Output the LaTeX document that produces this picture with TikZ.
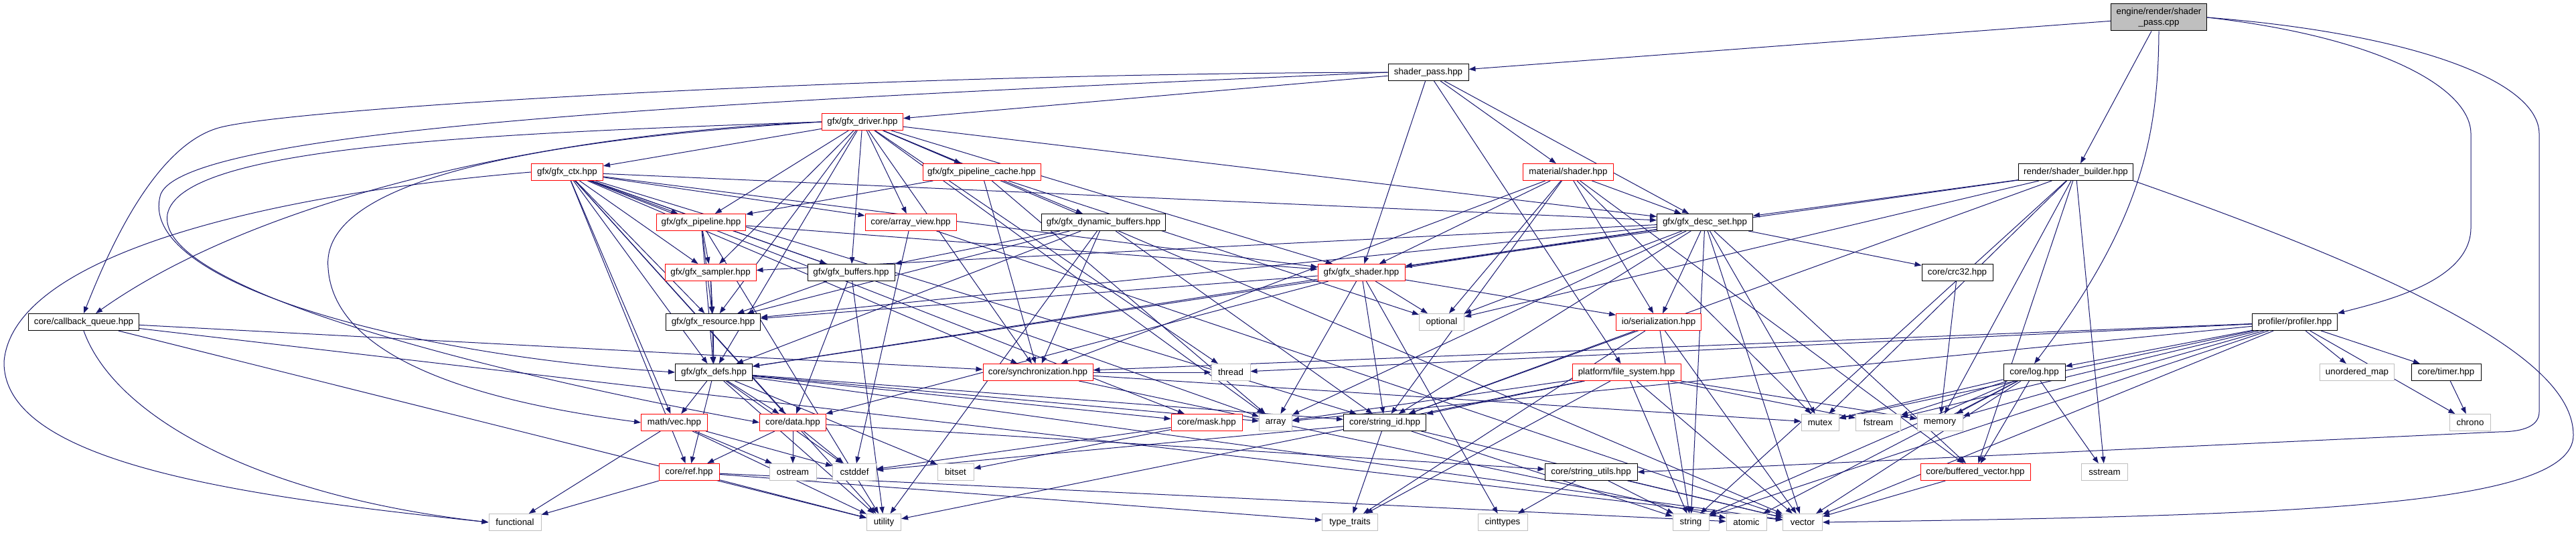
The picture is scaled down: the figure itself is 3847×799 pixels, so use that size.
\documentclass[tikz,border=0pt]{standalone}
\usepackage{fontspec}
\setmainfont{Liberation Sans}
\usetikzlibrary{arrows.meta}
\definecolor{edgec}{HTML}{191970}
\definecolor{sysg}{HTML}{BFBFBF}
\newdimen\pxu \pxu=0.75pt
\pgfdeclarelayer{bg}
\pgfsetlayers{bg,main}
\begin{document}
\begin{tikzpicture}[x=0.75pt,y=-0.75pt,
  nd/.style={rectangle, draw=black, fill=white, line width=0.75pt, inner sep=0pt,
     minimum height=25\pxu, font=\fontsize{10}{12}\selectfont, text=black},
  rn/.style={nd, draw=red},
  gn/.style={nd, draw=sysg},
  e/.style={draw=edgec, line width=0.75pt, -{Triangle[length=7.5pt,width=5.5pt]}},
]
\useasboundingbox (0,0) rectangle (3847,799);
% rank 0
\node[nd, fill=sysg, align=center, minimum width=143\pxu, minimum height=40\pxu] (root) at (3224,26) {engine/render/shader\\\_pass.cpp};
% rank 1
\node[nd, minimum width=120\pxu] (spass) at (2133,108) {shader\_pass.hpp};
% rank 2
\node[rn, minimum width=121\pxu] (driver) at (1288,182) {gfx/gfx\_driver.hpp};
% rank 3
\node[rn, minimum width=107\pxu] (ctx) at (847,257) {gfx/gfx\_ctx.hpp};
\node[rn, minimum width=176\pxu] (pcache) at (1466,257) {gfx/gfx\_pipeline\_cache.hpp};
\node[rn, minimum width=135\pxu] (mat) at (2342,257) {material/shader.hpp};
\node[nd, minimum width=171\pxu] (sbuild) at (3100,257) {render/shader\_builder.hpp};
% rank 4
\node[rn, minimum width=133\pxu] (pipe) at (1047,332) {gfx/gfx\_pipeline.hpp};
\node[rn, minimum width=136\pxu] (aview) at (1360,332) {core/array\_view.hpp};
\node[nd, minimum width=185\pxu] (dynbuf) at (1648,332) {gfx/gfx\_dynamic\_buffers.hpp};
\node[nd, minimum width=143\pxu] (desc) at (2546,332) {gfx/gfx\_desc\_set.hpp};
% rank 5
\node[rn, minimum width=136\pxu] (samp) at (1061,407) {gfx/gfx\_sampler.hpp};
\node[nd, minimum width=130\pxu] (bufs) at (1271,407) {gfx/gfx\_buffers.hpp};
\node[rn, minimum width=130\pxu] (shader) at (2033,407) {gfx/gfx\_shader.hpp};
\node[nd, minimum width=106\pxu] (crc) at (2923,407) {core/crc32.hpp};
% rank 6
\node[nd, minimum width=165\pxu] (cbq) at (125,481) {core/callback\_queue.hpp};
\node[nd, minimum width=141\pxu] (res) at (1065,481) {gfx/gfx\_resource.hpp};
\node[gn, minimum width=67\pxu] (opt) at (2153,481) {optional};
\node[rn, minimum width=127\pxu] (ser) at (2477,481) {io/serialization.hpp};
\node[nd, minimum width=127\pxu] (prof) at (3427,481) {profiler/profiler.hpp};
% rank 7
\node[nd, minimum width=115\pxu] (defs) at (1066,556) {gfx/gfx\_defs.hpp};
\node[rn, minimum width=164\pxu] (sync) at (1550,556) {core/synchronization.hpp};
\node[gn, minimum width=58\pxu] (thread) at (1838,556) {thread};
\node[rn, minimum width=162\pxu] (fsys) at (2429,556) {platform/file\_system.hpp};
\node[nd, minimum width=92\pxu] (log) at (3038,556) {core/log.hpp};
\node[gn, minimum width=111\pxu] (umap) at (3520,556) {unordered\_map};
\node[nd, minimum width=104\pxu] (timer) at (3653,556) {core/timer.hpp};
% rank 8
\node[rn, minimum width=99\pxu] (vec) at (1007,631) {math/vec.hpp};
\node[rn, minimum width=99\pxu] (data) at (1184,631) {core/data.hpp};
\node[rn, minimum width=106\pxu] (mask) at (1802,631) {core/mask.hpp};
\node[gn, minimum width=49\pxu] (array) at (1905,631) {array};
\node[nd, minimum width=123\pxu] (sid) at (2068,631) {core/string\_id.hpp};
\node[gn, minimum width=56\pxu] (mtx) at (2718,631) {mutex};
\node[gn, minimum width=67\pxu] (fstr) at (2805,631) {fstream};
\node[gn, minimum width=68\pxu] (mem) at (2897,631) {memory};
\node[gn, minimum width=61\pxu] (chrono) at (3689,631) {chrono};
% rank 9
\node[rn, minimum width=90\pxu] (ref) at (1029,705) {core/ref.hpp};
\node[gn, minimum width=70\pxu] (ostr) at (1184,705) {ostream};
\node[gn, minimum width=65\pxu] (cdef) at (1276,705) {cstddef};
\node[gn, minimum width=54\pxu] (bits) at (1427,705) {bitset};
\node[nd, minimum width=138\pxu] (sutil) at (2376,705) {core/string\_utils.hpp};
\node[rn, minimum width=164\pxu] (bvec) at (2950,705) {core/buffered\_vector.hpp};
\node[gn, minimum width=69\pxu] (sstr) at (3143,705) {sstream};
% rank 10
\node[gn, minimum width=78\pxu] (func) at (769,780) {functional};
\node[gn, minimum width=51\pxu] (util) at (1320,780) {utility};
\node[gn, minimum width=83\pxu] (tt) at (2016,780) {type\_traits};
\node[gn, minimum width=74\pxu] (cint) at (2244,780) {cinttypes};
\node[gn, minimum width=54\pxu] (str) at (2525,780) {string};
\node[gn, minimum width=60\pxu] (atom) at (2608,780) {atomic};
\node[gn, minimum width=59\pxu] (vect) at (2692,780) {vector};

\begin{pgfonlayer}{bg}
\foreach \a/\b in {root/spass, root/sbuild,
  spass/driver, spass/mat, spass/shader, spass/fsys, spass/desc,
  driver/ctx, driver/pcache, driver/pipe, driver/aview, driver/dynbuf, driver/bufs, driver/samp,
  driver/shader, driver/desc, driver/thread, driver/array, driver/res, driver/defs, driver/sync, driver/vect,
  ctx/pipe, ctx/aview, ctx/samp, ctx/bufs, ctx/shader, ctx/desc, ctx/res, ctx/defs, ctx/vec,
  ctx/data, ctx/ref, ctx/sid, ctx/mask, ctx/sync, ctx/array, ctx/util,
  pcache/pipe, pcache/sync, pcache/array, pcache/opt,
  mat/desc, mat/shader, mat/ser, mat/sid, mat/sync, mat/opt, mat/bvec, mat/mtx,
  sbuild/desc, sbuild/shader, sbuild/sstr, sbuild/mem, sbuild/str, sbuild/bvec, sbuild/mtx, sbuild/sid, sbuild/opt,
  pipe/samp, pipe/res, pipe/shader, pipe/defs, pipe/util,
  aview/cdef, aview/vect,
  dynbuf/bufs, dynbuf/res, dynbuf/defs, dynbuf/sync, dynbuf/util, dynbuf/sid,
  samp/res, samp/defs, bufs/res, bufs/data, bufs/util,
  shader/res, shader/defs, shader/ser, shader/opt, shader/array, shader/sid, shader/cint, shader/data,
  desc/samp, desc/shader, desc/res, desc/defs, desc/ser, desc/opt, desc/crc, desc/sid, desc/mtx,
  desc/vect, desc/str, desc/bvec, desc/array,
  crc/mem, res/defs, cbq/sync, cbq/vect, cbq/util,
  ser/sid, ser/str, ser/vect, ser/tt,
  prof/log, prof/thread, prof/mtx, prof/mem, prof/fstr, prof/umap, prof/timer, prof/chrono,
  prof/str, prof/vect, prof/array, prof/sync,
  log/mtx, log/fstr, log/mem, log/sstr, log/str, log/vect, log/atom, log/bvec,
  timer/chrono,
  fsys/str, fsys/vect, fsys/mem, fsys/fstr, fsys/tt, fsys/sid, fsys/util, fsys/array,
  sync/mtx, sync/atom, sync/thread,
  defs/vec, defs/data, defs/ref, defs/sid, defs/mask, defs/array, defs/bits, defs/cdef, defs/util, defs/vect,
  vec/func, vec/ostr, vec/cdef, vec/util,
  data/ref, data/ostr, data/cdef, data/sutil,
  mask/bits, mask/cdef,
  ref/func, ref/util, ref/tt, ref/atom,
  sid/tt, sid/str, sid/vect, sid/cdef,
  sutil/cint, sutil/str, sutil/vect, bvec/vect}
  \draw[e] (\a) -- (\b);
% curved connectors
\draw[e] (ctx.west) .. controls (400,290) and (20,380) .. (6,540) .. controls (4,690) and (350,740) .. (func.west);
\draw[e] (cbq.south) .. controls (170,620) and (380,740) .. (func.west);
\draw[e] (spass.west) .. controls (1300,110) and (450,160) .. (330,190) .. controls (230,215) and (160,380) .. (cbq.north);
\draw[e] (driver.west) .. controls (800,200) and (380,300) .. ([xshift=13.5pt]cbq.north);
\draw[e] (spass.west) .. controls (1100,150) and (280,190) .. (240,290) .. controls (200,420) and (600,530) .. (defs.west);
\draw[e] (driver.west) .. controls (700,200) and (270,220) .. (250,320) .. controls (230,440) and (800,570) .. (data.west);
\draw[e] (driver.west) .. controls (700,215) and (480,290) .. (490,400) .. controls (500,560) and (800,610) .. (vec.west);
\draw[e] (root.east) .. controls (3550,55) and (3690,130) .. (3690,200) -- (3690,340) .. controls (3690,420) and (3560,450) .. (prof.north east);
\draw[e] (root.south) .. controls (3223,200) and (3200,330) .. (log.north);
\draw[e] (root.east) .. controls (3600,50) and (3792,120) .. (3792,200) -- (3792,615) .. controls (3792,640) and (3760,645) .. (3731,645) -- (sutil.east);
\draw[e] (sbuild.south east) .. controls (3700,450) and (3843,560) .. (3843,650) .. controls (3843,760) and (3400,770) .. (vect.east);
\end{pgfonlayer}
\end{tikzpicture}
\end{document}
